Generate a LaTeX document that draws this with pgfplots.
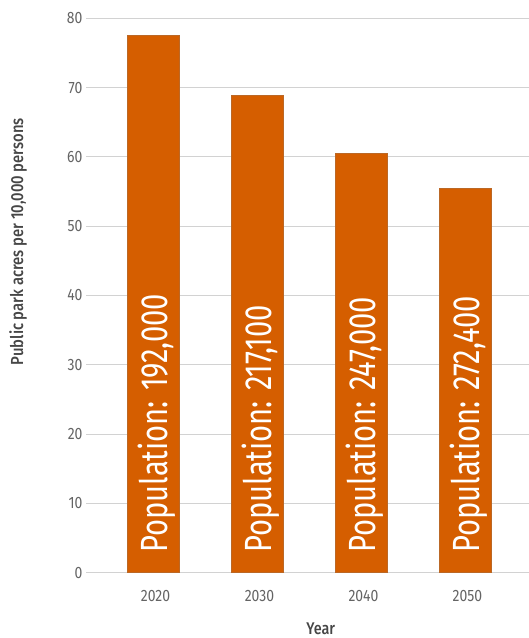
\documentclass[border=0pt]{standalone}
\usepackage{fontspec}
\setmainfont{Fira Sans}[FakeStretch=0.85]
\newfontfamily\barfont{Fira Sans}[FakeStretch=0.77]
\newfontfamily\labfont{Fira Sans Medium}[FakeStretch=0.85]
\usepackage{pgfplots}
\usepackage{pgfplotstable}
\pgfplotsset{compat=1.18}
\definecolor{barorange}{RGB}{213,94,0}
\definecolor{gridgray}{RGB}{210,210,210}
\definecolor{ticktext}{RGB}{100,100,100}
\definecolor{labtext}{RGB}{70,70,70}
\pgfplotstableread[col sep=semicolon]{
x;value;lab;label
0;77.5;2.85;Population: 192,000
1;68.9;2.85;Population: 217,100
2;60.5;2.85;Population: 247,000
3;55.4;2.85;Population: 272,400
}\datatable
\begin{document}
\begin{tikzpicture}
\path[use as bounding box] (0,0) rectangle (529bp,638bp);
\begin{axis}[
  at={(86bp,65.3bp)}, anchor=south west,
  scale only axis,
  width=443bp, height=554.4bp,
  xmin=-0.649, xmax=3.611,
  ymin=0, ymax=80,
  enlarge x limits=false,
  axis line style={draw=none},
  ytick={0,10,...,80},
  xtick={0,1,2,3},
  xticklabels={2020,2030,2040,2050},
  major tick length=0pt,
  ymajorgrids,
  grid style={gridgray, line width=1bp},
  /pgf/number format/assume math mode=true,
  tick label style={font=\fontsize{16.5}{18}\selectfont, text=ticktext},
  yticklabel style={xshift=0bp},
  xticklabel style={yshift=-14bp, xshift=2bp},
  ylabel={Public park acres per 10,000 persons},
  ylabel style={at={(axis description cs:-0.1535,0.597)}, anchor=center, font=\labfont\fontsize{17.5}{19}\selectfont, text=labtext},
  xlabel={Year},
  xlabel style={at={(axis description cs:0.530,-0.1016)}, anchor=center, font=\labfont\fontsize{17}{18}\selectfont, text=labtext},
  clip=false,
]
\addplot[ybar, bar width=51.6bp, fill=barorange, draw=barorange!70!gray, line width=0.6bp] table[x=x, y=value] {\datatable};
\addplot[only marks, mark=none, point meta=explicit symbolic,
  nodes near coords,
  nodes near coords style={xshift=14.5bp, rotate=90, anchor=base west, inner sep=0pt, text=white, font=\barfont\fontsize{38}{40}\selectfont}
] table[x=x, y=lab, meta=label] {\datatable};
\end{axis}
\end{tikzpicture}
\end{document}
